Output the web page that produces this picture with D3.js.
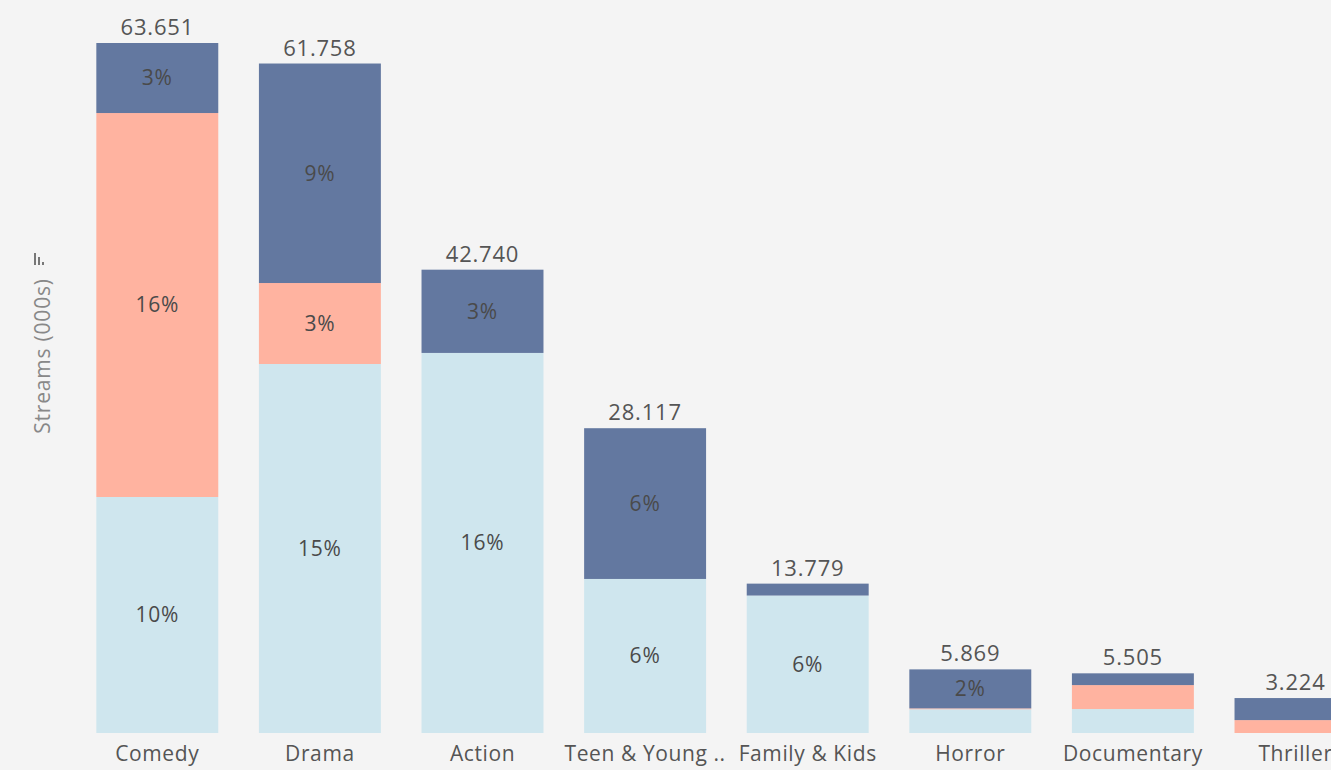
<!DOCTYPE html>
<html>
<head>
<meta charset="utf-8">
<script src="https://cdn.jsdelivr.net/npm/d3@7"></script>
<style>
  html, body { margin: 0; padding: 0; background: #f4f4f4; }
  svg { display: block; font-family: "Open Sans", "Noto Sans", sans-serif; }
</style>
</head>
<body>
<svg id="chart" width="1331" height="770"></svg>
<script>
const categories = ["Comedy", "Drama", "Action", "Teen & Young ..", "Family & Kids", "Horror", "Documentary", "Thriller"];
const totals = [63.651, 61.758, 42.74, 28.117, 13.779, 5.869, 5.505, 3.224];
// stacked from the bottom: light, salmon, dark
const lightValues = [21.77, 34.04, 35.06, 14.21, 12.68, 2.19, 2.21, 0];
const salmonValues = [35.42, 7.47, 0, 0, 0, 0.08, 2.21, 1.19];
const darkValues = [6.461, 20.248, 7.68, 13.907, 1.099, 3.599, 1.085, 2.034];
const seriesKeys = ["light", "salmon", "dark"];
const grandTotal = d3.sum(totals);

const width = 1331, height = 770;
const margin = { top: 43, bottom: 37, left: 76 };
const colors = { light: "#cfe6ee", salmon: "#ffb3a0", dark: "#6378a0" };

const data = categories.map((name, i) => ({
  name,
  total: totals[i],
  light: lightValues[i],
  salmon: salmonValues[i],
  dark: darkValues[i]
}));

const svg = d3.select("#chart");

const x = d3
  .scaleBand()
  .domain(categories)
  .range([margin.left, margin.left + 162.6 * categories.length])
  .paddingInner(0.25)
  .paddingOuter(0.125);

const y = d3
  .scaleLinear()
  .domain([0, d3.max(totals)])
  .range([height - margin.bottom, margin.top]);

const stacked = d3.stack().keys(seriesKeys)(data);

const layers = svg
  .append("g")
  .selectAll("g")
  .data(stacked)
  .join("g")
  .attr("fill", (s) => colors[s.key]);

layers
  .selectAll("rect")
  .data((s) => s)
  .join("rect")
  .attr("x", (d) => x(d.data.name))
  .attr("y", (d) => y(d[1]))
  .attr("width", x.bandwidth())
  .attr("height", (d) => y(d[0]) - y(d[1]));

// percentage labels inside segments big enough to hold them
layers
  .selectAll("text")
  .data((s) => s.filter((d) => y(d[0]) - y(d[1]) > 30))
  .join("text")
  .attr("x", (d) => x(d.data.name) + x.bandwidth() / 2)
  .attr("y", (d) => (y(d[0]) + y(d[1])) / 2)
  .attr("dy", "0.35em")
  .attr("text-anchor", "middle")
  .attr("fill", "#4a4a4a")
  .attr("font-size", 21)
  .attr("letter-spacing", 0.8)
  .text((d) => Math.round(((d[1] - d[0]) / grandTotal) * 100) + "%");

// totals above bars
svg
  .append("g")
  .selectAll("text")
  .data(data)
  .join("text")
  .attr("x", (d) => x(d.name) + x.bandwidth() / 2)
  .attr("y", (d) => y(d.total) - 8)
  .attr("text-anchor", "middle")
  .attr("fill", "#555")
  .attr("font-size", 22)
  .attr("letter-spacing", 0.8)
  .text((d) => d3.format(".3f")(d.total));

// x axis
svg
  .append("g")
  .attr("transform", `translate(0,${height - margin.bottom})`)
  .call(d3.axisBottom(x).tickSize(0).tickPadding(13))
  .call((g) => g.select(".domain").remove())
  .call((g) =>
    g
      .selectAll("text")
      .attr("font-size", 21)
      .attr("letter-spacing", 0.6)
      .attr("fill", "#555")
      .attr("font-family", "\"Open Sans\", \"Noto Sans\", sans-serif")
  );

// y axis title
svg
  .append("text")
  .attr("transform", "translate(50,356) rotate(-90)")
  .attr("text-anchor", "middle")
  .attr("fill", "#888")
  .attr("font-size", 21)
  .attr("letter-spacing", 0.8)
  .text("Streams (000s)");

// sort icon
const icon = svg.append("g").attr("fill", "#777").attr("transform", "translate(34,265)");
icon.append("rect").attr("x", 0).attr("y", -12).attr("width", 2).attr("height", 12);
icon.append("rect").attr("x", 4).attr("y", -8).attr("width", 2).attr("height", 8);
icon.append("rect").attr("x", 8).attr("y", -3).attr("width", 2).attr("height", 3);
</script>
</body>
</html>
